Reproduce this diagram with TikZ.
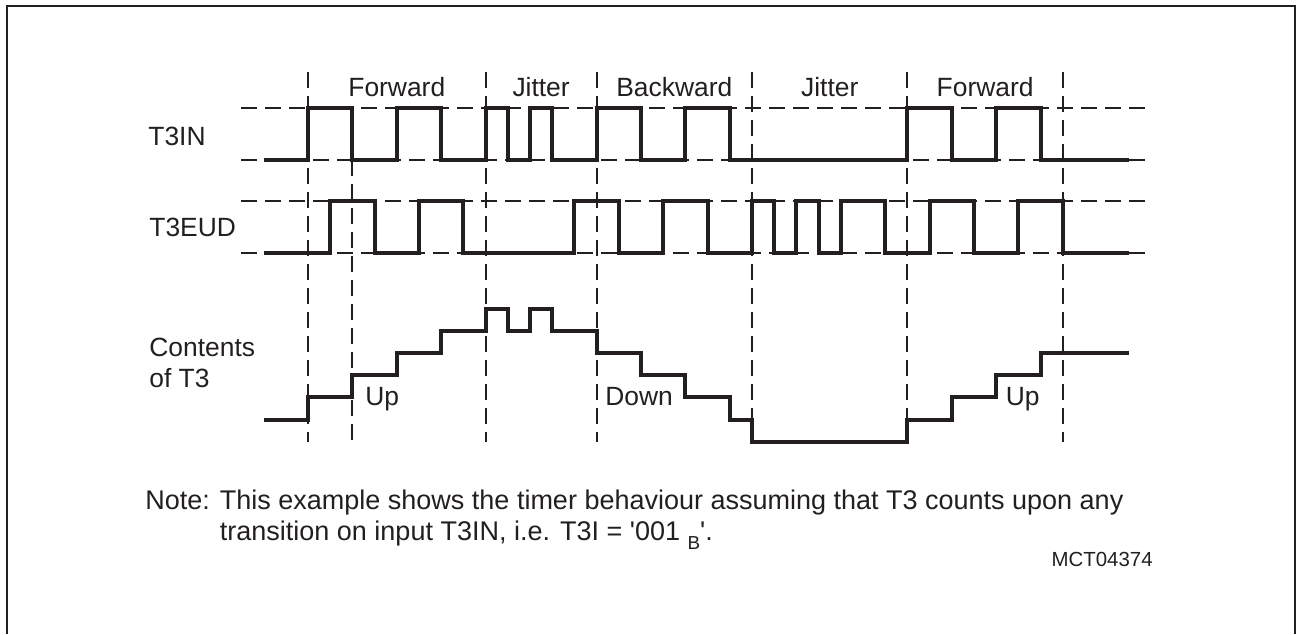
\documentclass[tikz,border=0pt]{standalone}
\usepackage{fontspec}
\setmainfont{Liberation Sans}
\usepackage{tikz}
\definecolor{ink}{HTML}{231F20}
\tikzset {
    style Wave/.style={
        draw=ink,
        line width=2pt,
        line join=miter,
    },
    style Grid/.style={
        draw=ink,
        line width=1pt,
        dash pattern=on 8pt off 4pt, % long dashes
    },
    style Frame/.style={
        draw=ink,
        line width=1pt,
    },
    style Label/.style={
        text=ink,
        inner sep=0pt,
        align=left,
    },
}

\begin{document}
\begin{tikzpicture}
[x=0.5pt, y=-0.5pt, font=\fontsize{13.2}{15.5}\selectfont]

\useasboundingbox (0,0) rectangle (1297,634);
\draw [style Frame] (6.7,634) |- (1294.5,5.7) -- (1294.5,634);

% signal names
\node [style Label, anchor=base west] (t3in) at (148,145) {T3IN};
\node [style Label, anchor=base west] (t3eud) at (149,236.7) {T3EUD};
\node [style Label, anchor=west] (contents) at (149,363) {Contents\\of T3};

\begin{scope}[shift={(308,0)}, x=11.1pt]
% level lines
\draw [style Grid] (-3,107.7) -- (38,107.7);
\draw [style Grid] (-3,160) -- (38,160);
\draw [style Grid] (-3,200.7) -- (38,200.7);
\draw [style Grid] (-3,252.7) -- (38,252.7);
% time marks
\draw [style Grid] (0,71.7) -- (0,441.7);
\draw [style Grid] (2,160) -- (2,441.7);
\draw [style Grid] (8,71.7) -- (8,441.7);
\draw [style Grid] (13,71.7) -- (13,441.7);
\draw [style Grid] (20,71.7) -- (20,441.7);
\draw [style Grid] (27,71.7) -- (27,441.7);
\draw [style Grid] (34,71.7) -- (34,441.7);

% phases
\node [style Label, anchor=base] (fwdA) at (4,96.7) {Forward};
\node [style Label, anchor=base] (jitA) at (10.5,96.7) {Jitter};
\node [style Label, anchor=base] (bwd) at (16.5,96.7) {Backward};
\node [style Label, anchor=base] (jitB) at (23.5,96.7) {Jitter};
\node [style Label, anchor=base] (fwdB) at (30.5,96.7) {Forward};

% T3IN
\draw [style Wave] (-2,160) -| (0,107.7) -| (2,160) -| (4,107.7) -| (6,160)
  -| (8,107.7) -| (9,160) -| (10,107.7) -| (11,160) -| (13,107.7) -| (15,160)
  -| (17,107.7) -| (19,160) -| (27,107.7) -| (29,160) -| (31,107.7) -| (33,160)
  -- (37,160);
% T3EUD
\draw [style Wave] (-2,252.7) -| (1,200.7) -| (3,252.7) -| (5,200.7) -| (7,252.7)
  -| (12,200.7) -| (14,252.7) -| (16,200.7) -| (18,252.7) -| (20,200.7)
  -| (21,252.7) -| (22,200.7) -| (23,252.7) -| (24,200.7) -| (26,252.7)
  -| (28,200.7) -| (30,252.7) -| (32,200.7) -| (34,252.7) -- (37,252.7);
% contents of T3
\draw [style Wave] (-2,419.5) -| (0,397.3) -| (2,375.1) -| (4,352.9) -| (6,330.7)
  -| (8,308.5) -| (9,330.7) -| (10,308.5) -| (11,330.7) -| (13,352.9)
  -| (15,375.1) -| (17,397.3) -| (19,419.5) -| (20,441.7) -| (27,419.5)
  -| (29,397.3) -| (31,375.1) -| (33,352.9) -- (37,352.9);
\end{scope}

\node [style Label, anchor=base west] (upA) at (365,405) {Up};
\node [style Label, anchor=base west] (down) at (605,405) {Down};
\node [style Label, anchor=base east] (upB) at (1040,405) {Up};

% note (base = last line)
\node [style Label, anchor=base west, font=\fontsize{13.5}{15.5}\selectfont] (note) at (145,540)
{Note: This example shows the timer behaviour assuming that T3 counts upon any\\
\hphantom{Note: }transition on input T3IN, i.e. T3I = \textquotesingle 001 \raisebox{-4.5pt}{\fontsize{9.4}{10}\selectfont B}\textquotesingle.};
\node [style Label, anchor=base east, font=\fontsize{10.2}{12}\selectfont] (code) at (1153,566.7) {MCT04374};

\end{tikzpicture}
\end{document}
